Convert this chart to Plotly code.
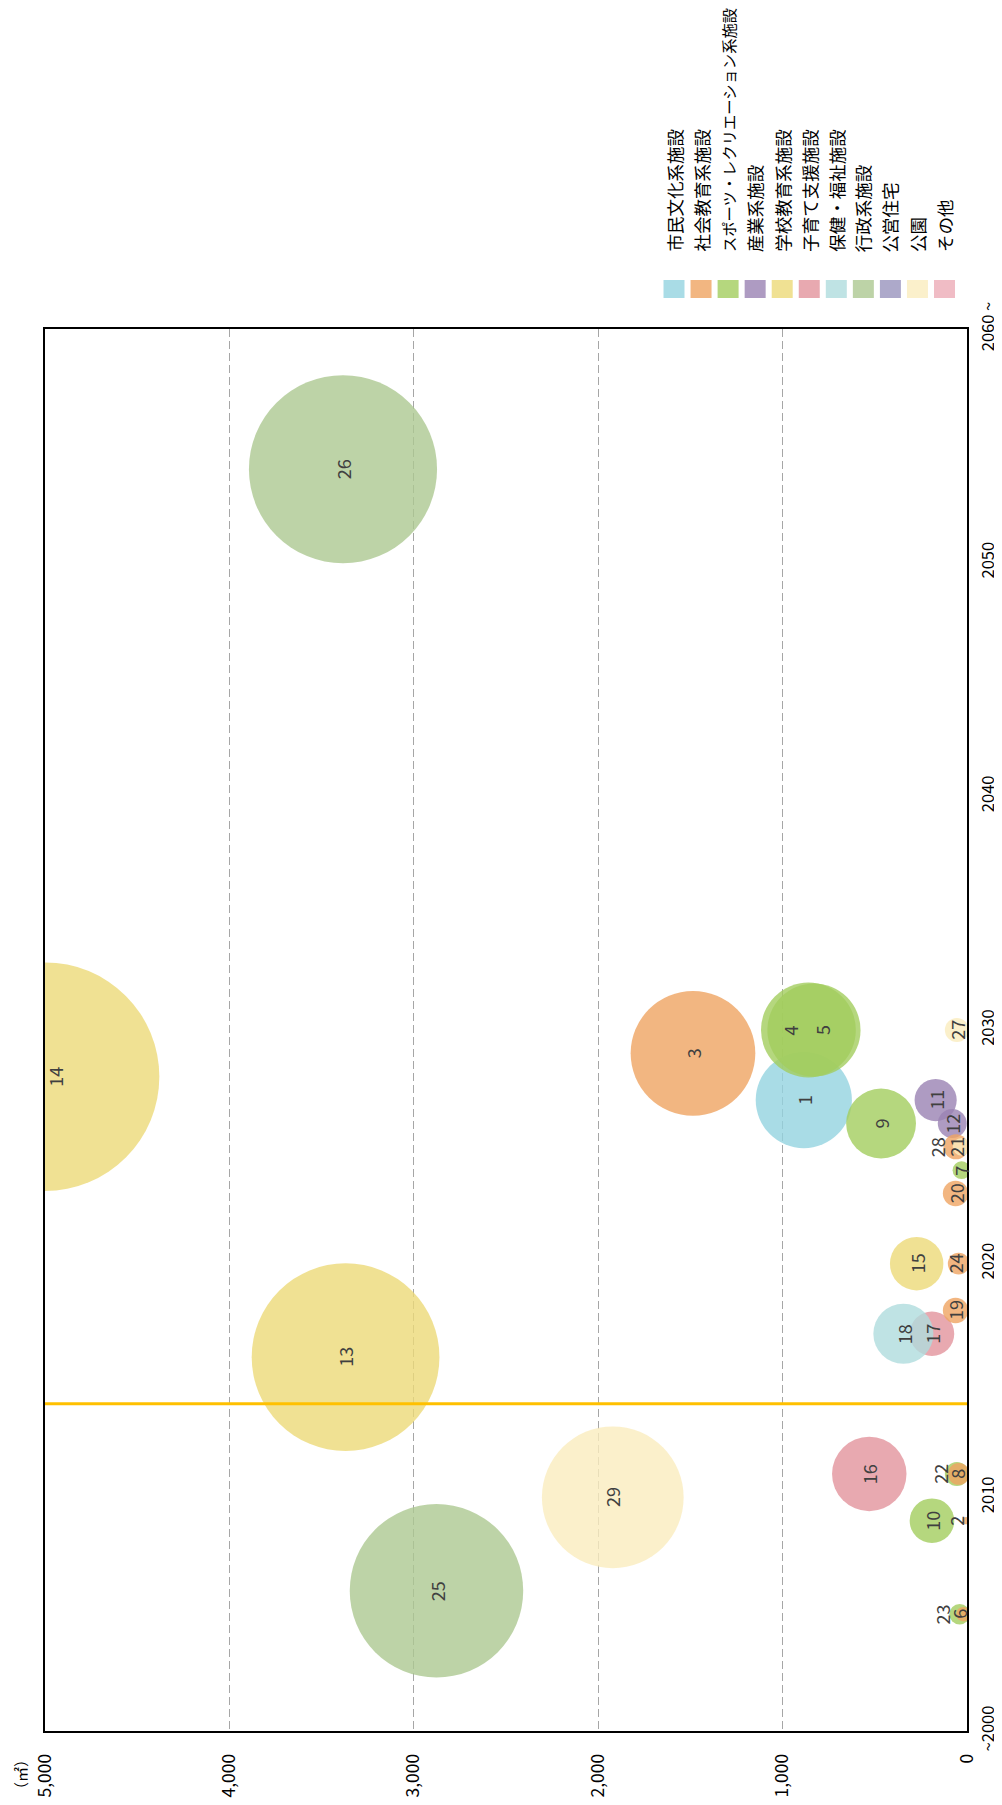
import plotly.graph_objects as go

# ---------------- data ----------------
categories = ["市民文化系施設", "社会教育系施設", "スポーツ・レクリエーション系施設", "産業系施設",
              "学校教育系施設", "子育て支援施設", "保健・福祉施設", "行政系施設",
              "公営住宅", "公園", "その他"]
category_colors = ["#A9DCE6", "#F2B681", "#B5D77E", "#AE9BC2", "#F0E193", "#E8A9B0",
                   "#BFE3E4", "#BDD3A7", "#ADA9CA", "#FBF0CB", "#F0BCC5"]

facility_ids = list(range(1, 30))
years = [2027, 2009, 2029, 2030, 2030, 2005, 2024, 2011, 2026, 2009,
         2027, 2026, 2016, 2028, 2020, 2011, 2017, 2017, 2018, 2023,
         2025, 2011, 2005, 2020, 2006, 2054, 2030, 2025, 2010]
areas = [885, 5, 1486, 860, 830, 40, 30, 55, 466, 190,
         170, 80, 3370, 5000, 273, 530, 190, 345, 62, 62,
         60, 45, 20, 45, 2877, 3384, 55, 30, 1921]
category_index = [0, 1, 1, 2, 2, 2, 2, 2, 2, 2,
                  3, 3, 4, 4, 4, 5, 5, 6, 1, 1,
                  1, 1, 1, 1, 7, 7, 9, 9, 9]

year_ticks = [2000, 2010, 2020, 2030, 2040, 2050, 2060]
year_tick_labels = ["~2000", "2010", "2020", "2030", "2040", "2050", "2060 ~"]
area_ticks = [0, 1000, 2000, 3000, 4000, 5000]
current_year = 2014

# label pixel offsets (style only)
label_shift = {14: 10, 4: -18, 5: 8, 23: -21, 22: -19, 2: -10, 28: -25, 24: -4}

# ---------------- layout geometry ----------------
OFF = 8                      # page body margin
W, H = 1002, 1805
L, R, T, B = 45 - OFF, 967 - OFF, 329 - OFF, 1731 - OFF
ALPHA = 0.8


def hex2rgb(h):
    h = h.lstrip("#")
    return tuple(int(h[i:i + 2], 16) for i in (0, 2, 4))


def base_rgba(h):
    d = hex2rgb(h)
    c = [max(0, min(255, round((v - 255 * (1 - ALPHA)) / ALPHA))) for v in d]
    return f"rgba({c[0]},{c[1]},{c[2]},{ALPHA})"


def px_x(px):
    """reference-image pixel x -> paper x"""
    return (px - OFF - L) / (R - L)


def px_y(py):
    """reference-image pixel y -> paper y"""
    return (B - (py - OFF)) / (B - T)


FONT = "Noto Sans CJK JP, Noto Sans, sans-serif"

fig = go.Figure()
fig.add_trace(go.Scatter(
    x=areas, y=years, mode="markers",
    marker=dict(size=areas, sizemode="area", sizeref=1 / (2 * 1.617 ** 2),
                color=[base_rgba(category_colors[c]) for c in category_index],
                opacity=1, line=dict(width=0)),
    cliponaxis=True, hoverinfo="skip", showlegend=False,
))

annotations = []
for fid, yr, a in zip(facility_ids, years, areas):
    annotations.append(dict(
        x=a, y=yr, xref="x", yref="y", text=str(fid), showarrow=False,
        textangle=-90, xanchor="center", yanchor="middle",
        xshift=label_shift.get(fid, 0),
        font=dict(family=FONT, size=18, color="#404040"),
    ))

# legend (rotated)
leg_x0 = 674
leg_dx = 27.05
shapes = []
for i, (name, col) in enumerate(zip(categories, category_colors)):
    cx = leg_x0 + i * leg_dx
    shapes.append(dict(type="rect", xref="paper", yref="paper",
                       x0=px_x(cx - 10.5), x1=px_x(cx + 10.5),
                       y0=px_y(298), y1=px_y(280),
                       fillcolor=col, line=dict(width=0)))
    annotations.append(dict(
        x=px_x(cx), y=px_y(254), xref="paper", yref="paper", text=name,
        showarrow=False, textangle=-90, xanchor="center", yanchor="bottom",
        font=dict(family=FONT, size=15.3 if len(name) > 10 else 17.5, color="#000000"),
    ))

# unit label
annotations.append(dict(
    x=px_x(20), y=px_y(1775), xref="paper", yref="paper", text="（㎡）",
    showarrow=False, textangle=-90, xanchor="center", yanchor="middle",
    font=dict(family=FONT, size=15, color="#000000"),
))

# current-year line
shapes.append(dict(type="line", xref="paper", yref="y", x0=0, x1=1,
                   y0=current_year, y1=current_year,
                   line=dict(color="#FFC000", width=3), layer="above"))

fig.update_layout(
    width=W, height=H, autosize=False,
    margin=dict(l=L, r=W - R, t=T, b=H - B, pad=0, autoexpand=False),
    paper_bgcolor="white", plot_bgcolor="white",
    showlegend=False,
    font=dict(family=FONT, size=17, color="#000000"),
    xaxis=dict(range=[5000, 0], tickvals=area_ticks, tickformat=",d",
               tickangle=-90, showgrid=True, gridcolor="#A6A6A6", gridwidth=1,
               griddash="8px,4px", zeroline=False, showline=True, mirror=True,
               linecolor="#000000", linewidth=1.5, ticks="", automargin=False,
               ticklabelstandoff=14, tickfont=dict(family=FONT, size=17.5)),
    yaxis=dict(range=[2000, 2060], tickvals=year_ticks, ticktext=year_tick_labels,
               side="right", tickangle=-90, showgrid=False, zeroline=False,
               showline=True, mirror=True, linecolor="#000000", linewidth=1.5,
               ticks="", automargin=False, ticklabelstandoff=5,
               tickfont=dict(family=FONT, size=16.5)),
    shapes=shapes,
    annotations=annotations,
)

fig.write_html("out.html")
